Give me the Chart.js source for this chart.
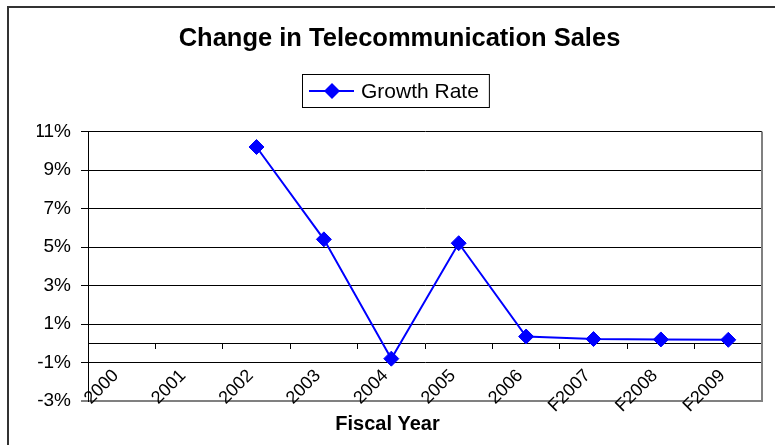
<!DOCTYPE html>
<html>
<head>
<meta charset="utf-8">
<title>Change in Telecommunication Sales</title>
<script src="https://cdn.jsdelivr.net/npm/chart.js@4.4.1/dist/chart.umd.min.js"></script>
<style>
  body { margin: 0; background: #fff; }
  canvas { display: block; }
</style>
</head>
<body>
<canvas id="myChart" width="775" height="445"></canvas>
<script>
  // data
  const years = ['2000', '2001', '2002', '2003', '2004', '2005', '2006', 'F2007', 'F2008', 'F2009'];
  const growthRate = [null, null, 10.2, 5.4, -0.8, 5.2, 0.35, 0.22, 0.2, 0.18];
  const yTicks = [-3, -1, 1, 3, 5, 7, 9, 11];
  const xTitle = 'Fiscal Year';

  const FONT = '"Liberation Sans", Arial, sans-serif';
  Chart.defaults.font.family = FONT;
  Chart.defaults.color = '#000';

  // outer frame, right border of plot, axis title under the plot
  const frame = {
    id: 'frame',
    beforeDraw(chart) {
      const ctx = chart.ctx;
      ctx.save();
      ctx.fillStyle = '#fff';
      ctx.fillRect(0, 0, chart.width, chart.height);
      ctx.fillStyle = '#333';
      ctx.fillRect(7, 6, 2, chart.height);
      ctx.fillRect(7, 6, chart.width, 2);
      ctx.restore();
    },
    afterDraw(chart) {
      const a = chart.chartArea;
      const ctx = chart.ctx;
      ctx.save();
      ctx.fillStyle = '#808080';
      ctx.fillRect(a.right - 1, a.top, 2, a.bottom - a.top + 1);
      ctx.fillStyle = '#000';
      ctx.font = 'bold 20px ' + FONT;
      ctx.textAlign = 'center';
      ctx.textBaseline = 'middle';
      ctx.fillText(xTitle, 387.5, 424);
      ctx.restore();
    }
  };

  // boxed legend like the original
  const legendBox = {
    id: 'legendBox',
    afterDraw(chart) {
      const ctx = chart.ctx;
      const ds = chart.data.datasets[0];
      ctx.save();
      ctx.font = '21px ' + FONT;
      const textW = ctx.measureText(ds.label).width;
      const left = 302, top = 74, h = 33;
      const w = 7 + 45 + 7 + textW + 10;
      ctx.strokeStyle = '#000';
      ctx.lineWidth = 1;
      ctx.strokeRect(left + 0.5, top + 0.5, w, h);
      const cy = top + h / 2 + 0.5;
      ctx.strokeStyle = ds.borderColor;
      ctx.lineWidth = 2;
      ctx.beginPath();
      ctx.moveTo(left + 7, cy);
      ctx.lineTo(left + 52, cy);
      ctx.stroke();
      const cx = left + 30;
      ctx.fillStyle = ds.pointBackgroundColor;
      ctx.beginPath();
      ctx.moveTo(cx - 8, cy);
      ctx.lineTo(cx, cy - 8);
      ctx.lineTo(cx + 8, cy);
      ctx.lineTo(cx, cy + 8);
      ctx.closePath();
      ctx.fill();
      ctx.fillStyle = '#000';
      ctx.textBaseline = 'middle';
      ctx.fillText(ds.label, left + 59, cy + 1);
      ctx.restore();
    }
  };

  const data = {
    labels: years,
    datasets: [{
      label: 'Growth Rate',
      data: growthRate,
      borderColor: '#0000ff',
      backgroundColor: '#0000ff',
      pointBackgroundColor: '#0000ff',
      pointBorderColor: '#0000ff',
      borderWidth: 2,
      pointStyle: 'rectRot',
      pointRadius: 7.5,
      pointBorderWidth: 1,
      spanGaps: false,
      tension: 0
    }]
  };

  const config = {
    type: 'line',
    data: data,
    options: {
      responsive: false,
      animation: false,
      layout: { padding: { left: 37, right: 13, top: 0, bottom: 44 } },
      plugins: {
        legend: { display: false },
        tooltip: { enabled: false },
        title: {
          display: true,
          text: 'Change in Telecommunication Sales',
          color: '#000',
          font: { size: 25.5, weight: 'bold' },
          padding: { top: 24, bottom: 77 }
        }
      },
      scales: {
        x: {
          type: 'category',
          position: { y: 0 },
          offset: true,
          grid: {
            offset: true,
            drawOnChartArea: false,
            drawTicks: true,
            tickLength: 5,
            color: '#000'
          },
          border: { display: true, color: '#000', width: 1 },
          ticks: {
            minRotation: 45,
            maxRotation: 45,
            autoSkip: false,
            padding: 17,
            labelOffset: -6,
            font: { size: 18 },
            color: '#000'
          }
        },
        y: {
          min: -3,
          max: 11,
          afterBuildTicks(scale) {
            scale.ticks = yTicks.map(v => ({ value: v }));
          },
          afterFit(scale) {
            scale.width = 51;
          },
          grid: {
            color: ctx => (ctx.tick && ctx.tick.value === -3) ? '#808080' : '#000',
            lineWidth: ctx => (ctx.tick && ctx.tick.value === -3) ? 2 : 1,
            tickLength: 7,
            drawTicks: true
          },
          border: { display: true, color: '#000', width: 1 },
          ticks: {
            padding: 10,
            font: { size: 19 },
            color: '#000',
            callback: v => v + '%'
          }
        }
      }
    },
    plugins: [frame, legendBox]
  };

  const myChart = new Chart(
    document.getElementById('myChart'),
    config
  );
</script>
</body>
</html>
